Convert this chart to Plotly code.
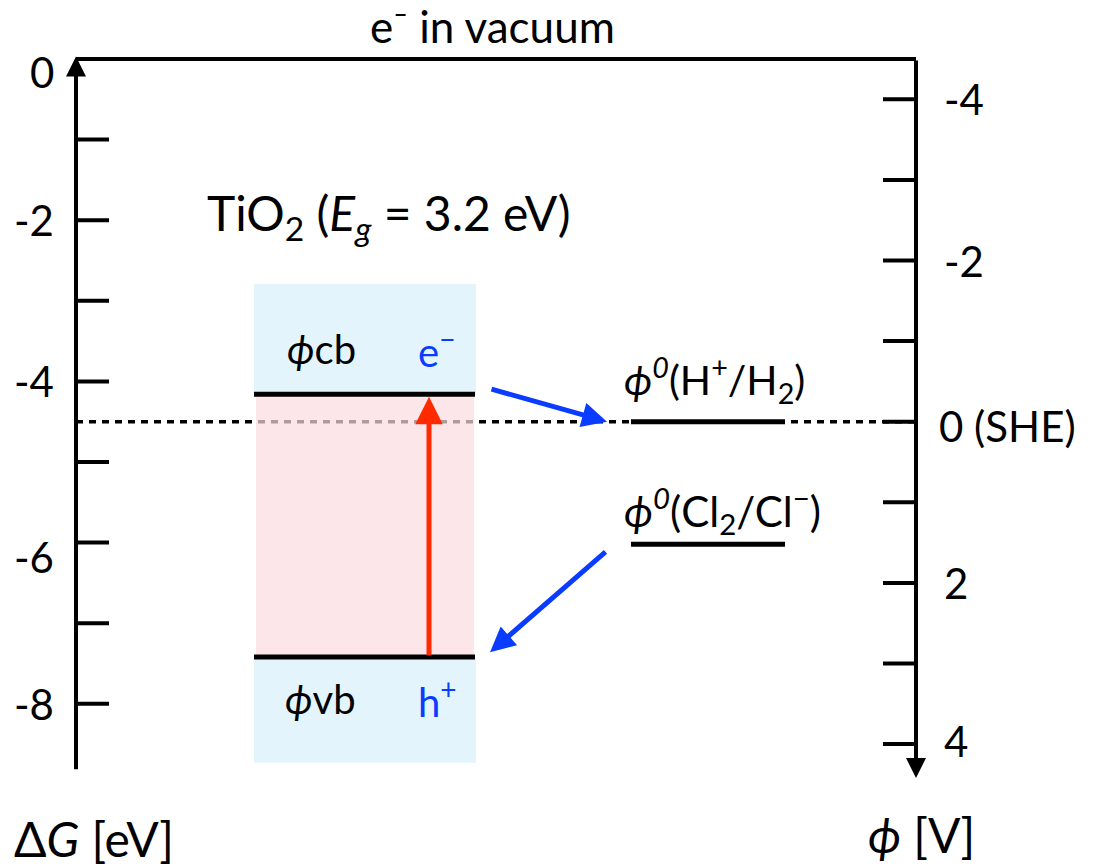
import plotly.graph_objects as go

# ---------------- data ----------------
SHE_dG = -4.5                                # ΔG of the SHE level vs. electron in vacuum [eV]
dG_tick_vals = [-1, -2, -3, -4, -5, -6, -7, -8]
dG_label_vals = [0, -2, -4, -6, -8]
dG_label_text = ["0", "-2", "-4", "-6", "-8"]
phi_tick_vals = [-4, -3, -2, -1, 0, 1, 2, 3, 4]
phi_label_vals = [-4, -2, 0, 2, 4]
phi_label_text = ["-4", "-2", "0 (SHE)", "2", "4"]
band_names = ["cb", "vb"]
band_dG = [-4.16, -7.42]                      # TiO2 conduction / valence band edges [eV]
redox_names = ["<i>ϕ</i><sup><i>0</i></sup>(H<sup>+</sup>/H<sub>2</sub>)",
               "<i>ϕ</i><sup><i>0</i></sup>(Cl<sub>2</sub>/Cl<sup>−</sup>)"]
redox_phi = [0.0, 1.52]                       # standard potentials [V vs SHE]

# ---------------- layout constants ----------------
W, H = 1097, 868
Y_RANGE = [-10.037, 0.732]                    # ΔG axis range
Y2_RANGE = [SHE_dG - Y_RANGE[0], SHE_dG - Y_RANGE[1]]   # ϕ = SHE_dG - ΔG (reversed)
FONT = "Lato"
BLUE = "#0a3cff"
RED = "#ff2a00"
X_LEFT, X_RIGHT = 76, 916
TICK = 33
BOX_X = [254, 476]
BOX_DG = [-2.79, -8.73]
AX_BOTTOM_DG = -8.83
AX_RIGHT_TIP_PHI = 4.42
LEV_X = [631, 785]

fig = go.Figure()

shapes = []
# light-blue TiO2 box (above CB, below VB)
shapes.append(dict(type="rect", xref="x", yref="y", x0=BOX_X[0], x1=BOX_X[1],
                   y0=band_dG[0], y1=BOX_DG[0], fillcolor="#e3f4fd", line_width=0, layer="below"))
shapes.append(dict(type="rect", xref="x", yref="y", x0=BOX_X[0], x1=BOX_X[1],
                   y0=BOX_DG[1], y1=band_dG[1], fillcolor="#e3f4fd", line_width=0, layer="below"))
# SHE dotted line
shapes.append(dict(type="line", xref="x", yref="y2", x0=X_LEFT, x1=X_RIGHT, y0=0, y1=0,
                   line=dict(color="black", width=3.5, dash="7px,6px"), layer="below"))
# pink band gap region (semi-transparent, dims the dotted line)
shapes.append(dict(type="rect", xref="x", yref="y", x0=BOX_X[0] + 2, x1=BOX_X[1] - 2,
                   y0=band_dG[1], y1=band_dG[0], fillcolor="rgba(252,219,225,0.7)",
                   line_width=0, layer="below"))
# top frame line (ΔG = 0)
shapes.append(dict(type="line", xref="x", yref="y", x0=X_LEFT, x1=X_RIGHT, y0=0, y1=0,
                   line=dict(color="black", width=4), layer="below"))
# left ticks
for v in dG_tick_vals:
    shapes.append(dict(type="line", xref="x", yref="y", x0=X_LEFT, x1=X_LEFT + TICK, y0=v, y1=v,
                       line=dict(color="black", width=4), layer="below"))
# right ticks
for v in phi_tick_vals:
    shapes.append(dict(type="line", xref="x", yref="y2", x0=X_RIGHT - TICK, x1=X_RIGHT, y0=v, y1=v,
                       line=dict(color="black", width=4), layer="below"))

# band edge lines
for v in band_dG:
    fig.add_trace(go.Scatter(x=[BOX_X[0], BOX_X[1] - 1], y=[v, v], mode="lines",
                             line=dict(color="black", width=5), hoverinfo="skip", yaxis="y"))
# redox levels
for v in redox_phi:
    fig.add_trace(go.Scatter(x=LEV_X, y=[v, v], mode="lines",
                             line=dict(color="black", width=5), hoverinfo="skip", yaxis="y2"))

ann = []
# axis arrows
ann.append(dict(x=X_LEFT, y=0.03, ax=X_LEFT, ay=AX_BOTTOM_DG, xref="x", yref="y", axref="x", ayref="y",
                text="", showarrow=True, arrowhead=2, arrowwidth=4, arrowsize=1, arrowcolor="black"))
ann.append(dict(x=X_RIGHT, y=AX_RIGHT_TIP_PHI, ax=X_RIGHT, ay=SHE_dG - 0.0, xref="x", yref="y2",
                axref="x", ayref="y2",
                text="", showarrow=True, arrowhead=2, arrowwidth=4, arrowsize=1, arrowcolor="black"))
# red excitation arrow
ann.append(dict(x=429, y=band_dG[0] - 0.03, ax=429, ay=band_dG[1], xref="x", yref="y", axref="x", ayref="y",
                text="", showarrow=True, arrowhead=2, arrowwidth=5, arrowsize=1.1, arrowcolor=RED))
# blue transfer arrows
ann.append(dict(x=607, y=SHE_dG, ax=490, ay=band_dG[0] + 0.07, xref="x", yref="y", axref="x", ayref="y",
                text="", showarrow=True, arrowhead=2, arrowwidth=5, arrowsize=1.0, arrowcolor=BLUE))
ann.append(dict(x=490, y=band_dG[1] + 0.06, ax=607, ay=SHE_dG - redox_phi[1] - 0.08, xref="x", yref="y",
                axref="x", ayref="y",
                text="", showarrow=True, arrowhead=2, arrowwidth=5, arrowsize=1.0, arrowcolor=BLUE))

def txt(x, y, s, size, yref="y", xanchor="center", color="black", yshift=0):
    ann.append(dict(x=x, y=y, xref="x", yref=yref, text=s, showarrow=False, xanchor=xanchor,
                    yanchor="middle", yshift=yshift, font=dict(family=FONT, size=size, color=color)))

# left tick labels
left_shift = {0: -13, -6: -14}
for v, s in zip(dG_label_vals, dG_label_text):
    txt(56, v, s, 42, xanchor="right", yshift=left_shift.get(v, 0))
# right tick labels
right_shift = {0: -4, 4: 3}
for v, s in zip(phi_label_vals, phi_label_text):
    txt(937 if v == 0 else 942, v, s, 42, yref="y2", xanchor="left", yshift=right_shift.get(v, 0))

# titles
ann.append(dict(x=492, y=1.0, xref="x", yref="paper", text="e⁻ in vacuum", showarrow=False,
                xanchor="center", yanchor="middle", yshift=-26, font=dict(family=FONT, size=44)))
ann.append(dict(x=12, y=0, xref="x", yref="paper", text="Δ<i>G</i> [eV]", showarrow=False,
                xanchor="left", yanchor="middle", yshift=30, font=dict(family=FONT, size=48)))
ann.append(dict(x=866, y=0, xref="x", yref="paper", text="<i>ϕ</i> [V]", showarrow=False,
                xanchor="left", yanchor="middle", yshift=34, font=dict(family=FONT, size=48)))

txt(388, -1.95, "TiO<sub>2</sub> (<i>E</i><sub><i>g</i></sub> = 3.2 eV)", 48)
txt(321, band_dG[0], "<i>ϕ</i>cb", 40, yshift=45)
txt(436, band_dG[0], "e<sup>−</sup>", 40, color=BLUE, yshift=45)
txt(320, band_dG[1], "<i>ϕ</i>vb", 40, yshift=-42)
txt(437, band_dG[1], "h<sup>+</sup>", 40, color=BLUE, yshift=-42)
txt(622, redox_phi[0], redox_names[0], 41, yref="y2", xanchor="left", yshift=42)
txt(622, redox_phi[1], redox_names[1], 42, yref="y2", xanchor="left", yshift=34)

fig.update_layout(
    width=W, height=H, margin=dict(l=0, r=0, t=0, b=0),
    paper_bgcolor="white", plot_bgcolor="white", showlegend=False,
    xaxis=dict(range=[0, W], visible=False, fixedrange=True),
    yaxis=dict(range=Y_RANGE, visible=False, fixedrange=True),
    yaxis2=dict(range=Y2_RANGE, overlaying="y", visible=False, fixedrange=True),
    shapes=shapes, annotations=ann,
    font=dict(family=FONT, size=40, color="black"),
)

fig.write_html("out.html", config={"displayModeBar": False},
               post_script="document.body.style.margin='0px';")
